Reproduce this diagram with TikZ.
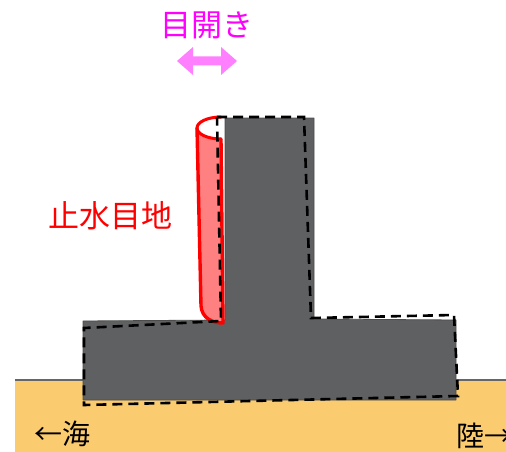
\documentclass[tikz,border=0pt]{standalone}
\usepackage{fontspec}
\newfontfamily\jpfont{Noto Sans CJK JP}
\definecolor{ground}{HTML}{FBCB6F}
\definecolor{wallgray}{HTML}{5F6062}
\definecolor{tubepink}{HTML}{FF8080}
\definecolor{gaparrow}{HTML}{FF80FF}
\definecolor{gaptext}{HTML}{FF00FF}
\tikzset{
  groundfill/.style={fill=ground},
  groundline/.style={draw=gray!80!black, line width=1.2pt},
  wall/.style={fill=wallgray, draw=black!70, line width=0.8pt, line join=round},
  tilted/.style={draw=black, line width=2.6pt, dash pattern=on 10pt off 6pt, line join=miter},
  tubeedge/.style={draw=red, line width=3.4pt, line join=round, line cap=round},
  lip/.style={draw=red, line width=3pt, line cap=round},
  label/.style={font=\jpfont\fontsize{28}{30}\selectfont, inner sep=0pt},
  biglabel/.style={font=\jpfont\fontsize{31}{33}\selectfont, inner sep=0pt}
}
\begin{document}
\begin{tikzpicture}[x=1pt,y=-1pt]
  \useasboundingbox (0,0) rectangle (506,452);
  % ground
  \fill[groundfill] (15,380) rectangle (520,452);
  \draw[groundline] (15,380) -- (520,380);
  % wall, original position
  \path[wall] (225,118) -- (314,118) -- (314,319) -- (456,320) -- (456,400)
    -- (83,400) -- (83,321) -- (225,320) -- cycle;
  % water stop tube
  \fill[tubepink] (197,128) -- (201,306) .. controls (202,318) and (212,323) .. (223,323)
    -- (221,139) arc[start angle=90, end angle=180, x radius=24, y radius=11] -- cycle;
  \draw[tubeedge] (197,128) -- (201,306) .. controls (202,318) and (212,323) .. (223,323)
    -- (221,139);
  \draw[lip] (221,117) arc[start angle=270, end angle=90, x radius=24, y radius=11];
  % wall, tilted position
  \draw[tilted] (217,117) -- (304,117) -- (311,318) -- (454,315) -- (458,396)
    -- (84,405) -- (84,328) -- (221,321) -- cycle;
  % joint opening arrow
  \fill[gaparrow] (177,61) -- (193,47) -- (193,56.5) -- (221,56.5) -- (221,47)
    -- (237,61) -- (221,75) -- (221,65.5) -- (193,65.5) -- (193,75) -- cycle;
  % labels
  \node[biglabel, text=gaptext] (gap) at (207,25) {目開き};
  \node[biglabel, text=red] (stop) at (110,216) {止水目地};
  \node[label, text=black, anchor=west] (sea) at (34,434) {←海};
  \node[label, text=black, anchor=west] (land) at (456,436) {陸→};
\end{tikzpicture}
\end{document}
